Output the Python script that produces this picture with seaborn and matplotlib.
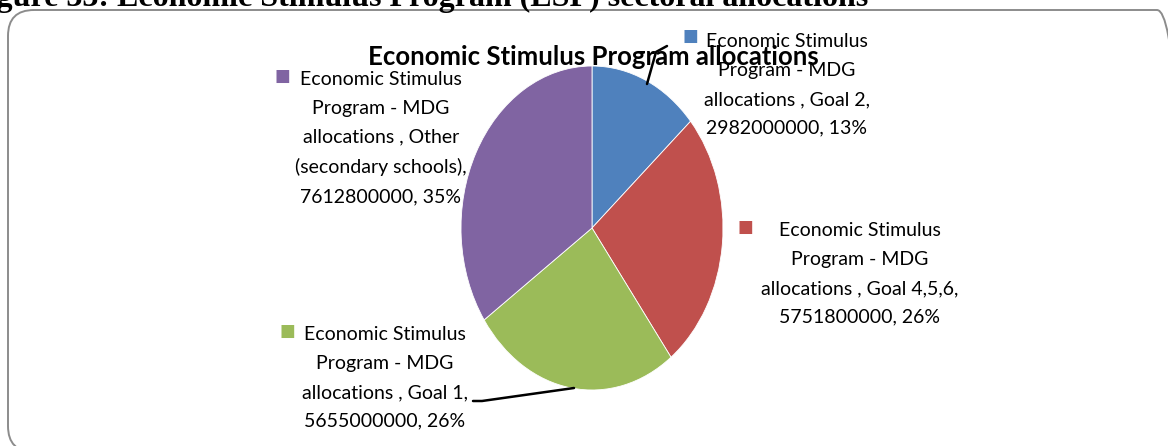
import matplotlib.pyplot as plt
import seaborn as sns
from matplotlib.patches import FancyBboxPatch
from matplotlib.lines import Line2D

sns.set_style("white")
plt.rcParams['font.family'] = ['Lato', 'DejaVu Sans']
plt.rcParams['text.color'] = 'black'

# data
goals = ["Goal 2", "Goal 4,5,6", "Goal 1", "Other (secondary schools)"]
amounts = [2982000000, 5751800000, 5655000000, 7612800000]
percents = ["13%", "26%", "26%", "35%"]
colors = ["#4F81BD", "#C0504D", "#9BBB59", "#8064A2"]

W, H = 1168, 446
fig = plt.figure(figsize=(W / 100, H / 100), dpi=100)


def fx(px):
    return px / W


def fy(py):
    return 1 - py / H


# caption cut off at the top of the page
fig.text(fx(-32), fy(6), "Figure 33: Economic Stimulus Program (ESP) sectoral allocations",
         family=['Liberation Serif', 'DejaVu Serif'], fontweight='bold', fontsize=23,
         va='baseline', ha='left')

# rounded chart frame (in inches so the corners stay round)
frame = FancyBboxPatch((0.08, -0.06), 11.75, 4.42,
                       boxstyle="round,pad=0,rounding_size=0.26",
                       transform=fig.dpi_scale_trans, fill=False, edgecolor="#8c8c8c", lw=1.4)
fig.patches.append(frame)

# pie (elliptical, as in the source)
cx, cy, rx, ry = 592, 228, 131, 162
ax = fig.add_axes([fx(cx - rx), fy(cy + ry), fx(2 * rx), (2 * ry) / H])
ax.pie(amounts, colors=colors, startangle=90, counterclock=False,
       wedgeprops=dict(linewidth=0.6, edgecolor='white'))
ax.set_aspect('auto')
ax.set_xlim(-1, 1)
ax.set_ylim(-1, 1)
ax.axis('off')

fig.text(fx(593), fy(57), "Economic Stimulus Program allocations", ha='center', va='center',
         fontsize=18.5, fontweight='bold')

# data labels with legend keys
label_pos = [(787, 85), (860, 274), (385, 378), (381, 138)]
key_pos = [(690, 36), (745, 227), (287, 331), (282, 76)]
for i in range(len(goals)):
    g = goals[i]
    if g.startswith("Other"):
        txt = "Economic Stimulus\nProgram - MDG\nallocations , Other\n(secondary schools),\n{}, {}".format(amounts[i], percents[i])
    else:
        txt = "Economic Stimulus\nProgram - MDG\nallocations , {},\n{}, {}".format(g, amounts[i], percents[i])
    x, y = label_pos[i]
    fig.text(fx(x), fy(y), txt, ha='center', va='center', fontsize=14, linespacing=1.85)
    kx, ky = key_pos[i]
    fig.text(fx(kx), fy(ky), "■", ha='center', va='center', fontsize=12,
             color=colors[i], family=['DejaVu Sans'])

# leader lines
fig.lines.append(Line2D([fx(647), fx(656), fx(667)], [fy(84), fy(52), fy(46)],
                        transform=fig.transFigure, color='black', lw=1.8))
fig.lines.append(Line2D([fx(574), fx(482), fx(473)], [fy(388), fy(401), fy(401)],
                        transform=fig.transFigure, color='black', lw=1.8))

fig.savefig("out.png", dpi=100)
